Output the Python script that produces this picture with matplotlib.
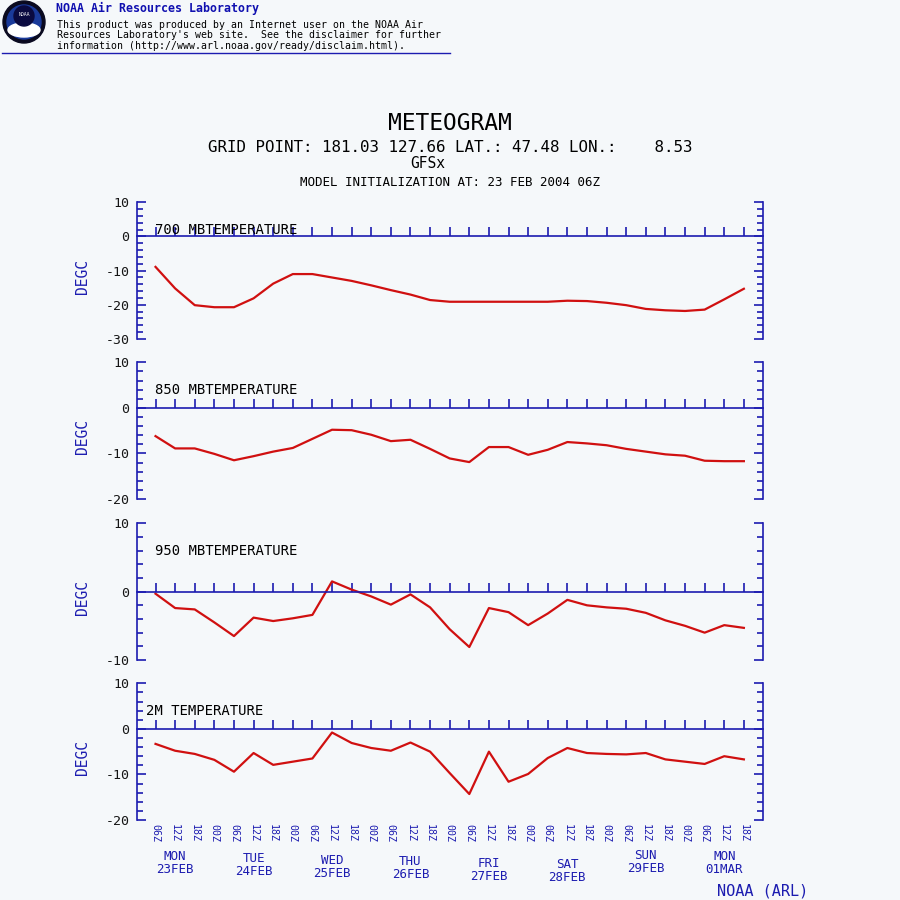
import matplotlib
matplotlib.use('Agg')
import matplotlib.pyplot as plt
import matplotlib.transforms as mtransforms
from matplotlib.patches import Circle, Ellipse
from matplotlib.ticker import MultipleLocator

# time axis: 23 FEB 2004 06Z .. 01 MAR 2004 18Z, every 6 hours
time_labels = ['06Z', '12Z', '18Z', '00Z', '06Z', '12Z', '18Z', '00Z',
               '06Z', '12Z', '18Z', '00Z', '06Z', '12Z', '18Z', '00Z',
               '06Z', '12Z', '18Z', '00Z', '06Z', '12Z', '18Z', '00Z',
               '06Z', '12Z', '18Z', '00Z', '06Z', '12Z', '18Z']
day_names = ['MON', 'TUE', 'WED', 'THU', 'FRI', 'SAT', 'SUN', 'MON']
day_dates = ['23FEB', '24FEB', '25FEB', '26FEB', '27FEB', '28FEB', '29FEB', '01MAR']
day_noon_idx = [1, 5, 9, 13, 17, 21, 25, 29]

t700 = [-8.9, -15.2, -20.1, -20.7, -20.7, -18.1, -13.8, -11.0, -11.0, -12.0, -13.0,
        -14.3, -15.7, -17.0, -18.6, -19.1, -19.1, -19.1, -19.1, -19.1, -19.1,
        -18.8, -18.9, -19.4, -20.1, -21.2, -21.6, -21.8, -21.4, -18.4, -15.3]
t850 = [-6.2, -8.9, -8.9, -10.1, -11.5, -10.6, -9.6, -8.8, -6.8, -4.8, -4.9,
        -5.9, -7.3, -7.0, -9.0, -11.1, -11.9, -8.6, -8.6, -10.3, -9.2,
        -7.5, -7.8, -8.2, -9.0, -9.6, -10.2, -10.5, -11.6, -11.7, -11.7]
t950 = [-0.3, -2.4, -2.6, -4.5, -6.5, -3.8, -4.3, -3.9, -3.4, 1.5, 0.3,
        -0.7, -1.9, -0.4, -2.3, -5.5, -8.1, -2.4, -3.0, -4.9, -3.2,
        -1.2, -2.0, -2.3, -2.5, -3.1, -4.2, -5.0, -6.0, -4.9, -5.3]
t2m = [-3.3, -4.8, -5.5, -6.8, -9.4, -5.3, -7.9, -7.2, -6.5, -0.8, -3.1,
       -4.2, -4.8, -3.0, -5.0, -9.7, -14.3, -5.0, -11.6, -9.9, -6.4,
       -4.2, -5.3, -5.5, -5.6, -5.3, -6.7, -7.2, -7.7, -6.0, -6.7]

panel_titles = ['700 MBTEMPERATURE', '850 MBTEMPERATURE', '950 MBTEMPERATURE', '2M TEMPERATURE']
panel_series = [t700, t850, t950, t2m]
panel_ylims = [(-30, 10), (-20, 10), (-10, 10), (-20, 10)]

BLUE = '#1c1cb0'
RED = '#d01010'
BG = '#f5f8fa'
MONO = 'DejaVu Sans Mono'
W = H = 900.0


def fx(px):
    return px / W


def fy(py):
    return 1 - py / H


fig = plt.figure(figsize=(9, 9), dpi=100, facecolor=BG)

# header
fig.add_artist(Circle((fx(24), fy(22)), 21 / W, transform=fig.transFigure, color='#0a0a20'))
fig.add_artist(Circle((fx(24), fy(22)), 17 / W, transform=fig.transFigure, color='#1a3a9a'))
fig.add_artist(Ellipse((fx(24), fy(30)), 32 / W, 14 / W, transform=fig.transFigure, color='white'))
fig.add_artist(Circle((fx(24), fy(16)), 10 / W, transform=fig.transFigure, color='#0a0a40'))
fig.text(fx(24), fy(15), 'NOAA', color='white', fontsize=3.5, ha='center', va='center', family=MONO)
fig.text(fx(56), fy(8), 'NOAA Air Resources Laboratory', color='#1010b0', fontsize=8.4,
         fontweight='bold', family=MONO, ha='left', va='center')
fig.text(fx(57), fy(35.5),
         "This product was produced by an Internet user on the NOAA Air\n"
         "Resources Laboratory's web site.  See the disclaimer for further\n"
         "information (http://www.arl.noaa.gov/ready/disclaim.html).",
         color='black', fontsize=7.1, family=MONO, ha='left', va='center', linespacing=1.05)
fig.add_artist(plt.Line2D([fx(2), fx(450)], [fy(53), fy(53)], transform=fig.transFigure,
                          color=BLUE, lw=1.0))

# titles
fig.text(fx(450), fy(124), 'METEOGRAM', fontsize=16.5, family=MONO, ha='center', va='center')
fig.text(fx(450), fy(148), 'GRID POINT: 181.03 127.66 LAT.: 47.48 LON.:    8.53',
         fontsize=11.4, family=MONO, ha='center', va='center')
fig.text(fx(428), fy(164), 'GFSx', fontsize=10.5, family=MONO, ha='center', va='center')
fig.text(fx(450), fy(183), 'MODEL INITIALIZATION AT: 23 FEB 2004 06Z',
         fontsize=9, family=MONO, ha='center', va='center')

# panels
ax_left, ax_right = 136.5, 762.5
panel_tops = [202.3, 362.3, 523.3, 683.3]
panel_h = 136.7
x = list(range(len(time_labels)))

axes = []
for k in range(4):
    top = panel_tops[k]
    ax = fig.add_axes([fx(ax_left), fy(top + panel_h), (ax_right - ax_left) / W, panel_h / H])
    ax.set_facecolor('none')
    ax.plot(x, panel_series[k], color=RED, lw=1.6, solid_joinstyle='round')
    ax.set_xlim(-0.97, 30.95)
    ax.set_ylim(*panel_ylims[k])

    ax.spines['top'].set_visible(False)
    ax.spines['bottom'].set_position(('data', 0))
    for s in ['left', 'right', 'bottom']:
        ax.spines[s].set_color(BLUE)
        ax.spines[s].set_linewidth(1.2)

    ax.yaxis.set_major_locator(MultipleLocator(10))
    ax.yaxis.set_minor_locator(MultipleLocator(2))
    ax.tick_params(axis='y', which='both', direction='in', left=True, right=True,
                   color=BLUE, width=1.2, labelsize=9.5, labelcolor='#151515', pad=5)
    ax.tick_params(axis='y', which='major', length=6.5)
    ax.tick_params(axis='y', which='minor', length=4.3)
    yt = list(range(panel_ylims[k][0], panel_ylims[k][1] + 1, 10))
    ax.set_yticks(yt)
    ax.set_yticklabels([str(v) for v in yt], family=MONO)

    ax.set_xticks(x)
    ax.tick_params(axis='x', direction='in', length=6.5, width=1.2, color=BLUE,
                   labelbottom=False)

    title_x = -0.5 if k == 3 else -0.05
    ax.text(title_x, 0.797, panel_titles[k], transform=mtransforms.blended_transform_factory(
        ax.transData, ax.transAxes), fontsize=10, family=MONO, ha='left', va='center')

    fig.text(fx(82), fy(top + panel_h / 2 + 6), 'DEGC', color=BLUE, fontsize=10.5,
             family=MONO, rotation=90, ha='center', va='center')
    axes.append(ax)

# time labels under bottom panel
bax = axes[-1]
trans = mtransforms.blended_transform_factory(bax.transData, fig.transFigure)
for i, lab in enumerate(time_labels):
    bax.text(i, fy(824), lab, transform=trans, rotation=-90, fontsize=7.2, family=MONO,
             color=BLUE, ha='center', va='top', clip_on=False)

day_label_y = [863, 865, 867, 868, 870, 871, 862, 863]
for j in range(len(day_names)):
    bax.text(day_noon_idx[j], fy(day_label_y[j]), day_names[j] + '\n' + day_dates[j],
             transform=trans, fontsize=9, family=MONO, color=BLUE, ha='center',
             va='center', linespacing=0.95, clip_on=False)

fig.text(fx(808), fy(891), 'NOAA (ARL)', color=BLUE, fontsize=11, family=MONO,
         ha='right', va='center')

fig.savefig('out.png', dpi=100, facecolor=BG)
